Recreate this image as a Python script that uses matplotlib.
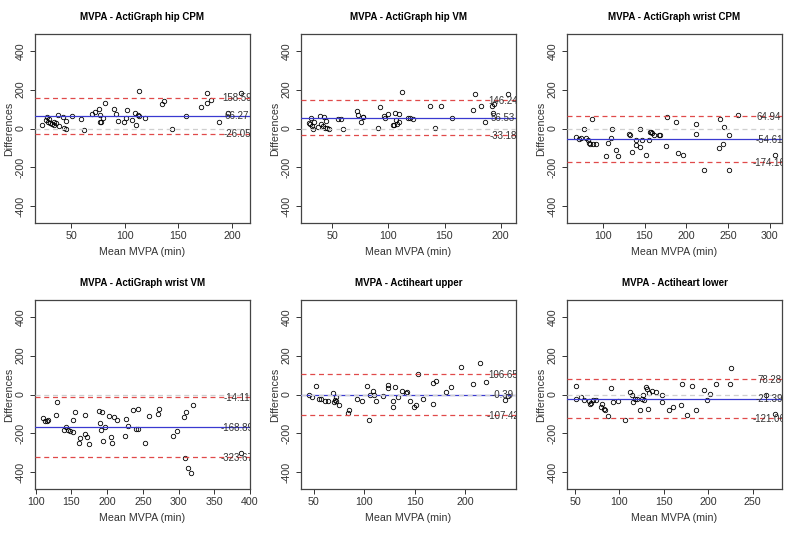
import matplotlib

matplotlib.use("Agg")
import matplotlib.pyplot as plt

plt.rcParams["font.family"] = ["Liberation Sans", "DejaVu Sans"]
plt.rcParams["axes.unicode_minus"] = False

# panel titles
titles = [
    "MVPA - ActiGraph hip CPM",
    "MVPA - ActiGraph hip VM",
    "MVPA - ActiGraph wrist CPM",
    "MVPA - ActiGraph wrist VM",
    "MVPA - Actiheart upper",
    "MVPA - Actiheart lower",
]

# Bland-Altman limits: upper LoA, mean difference, lower LoA
limits = [
    [158.59, 66.27, -26.05],
    [146.24, 56.53, -33.18],
    [64.94, -54.61, -174.16],
    [-14.11, -168.89, -323.67],
    [106.65, -0.39, -107.42],
    [78.28, -21.39, -121.06],
]

# x ranges and tick positions
xlims = [(16, 217), (22.5, 213.5), (57, 315), (99, 400), (37.5, 250), (41, 283)]
xticks = [
    [50, 100, 150, 200],
    [50, 100, 150, 200],
    [100, 150, 200, 250, 300],
    [100, 150, 200, 250, 300, 350, 400],
    [50, 100, 150, 200],
    [50, 100, 150, 200, 250],
]

# mean MVPA (min) and differences for each panel
hip_cpm_mean = [22.5, 26.6, 27.2, 28.1, 29.4, 30.3, 31.9, 33.4, 34.0, 36.0, 37.2, 38.1,
                42.2, 42.8, 45.0, 45.3, 50.6, 59.4, 61.9, 69.4, 72.5, 75.9, 76.6, 76.9,
                78.1, 79.7, 81.9, 90.0, 91.3, 93.8, 99.1, 101.6, 101.3, 106.3, 109.7,
                110.6, 112.5, 112.8, 113.4, 118.4, 135.0, 136.6, 144.4, 156.9, 170.9,
                176.6, 177.2, 180.9, 187.8, 196.3, 209.0]
hip_cpm_diff = [17, 44, 58, 35, 49, 26, 23, 32, 17, 26, 70, 14,
                58, 3, 0, 40, 65, 49, -7, 75, 84, 100, 67, 35,
                35, 56, 132, 100, 75, 40, 35, 93, 53, 44, 82,
                16, 70, 65, 193, 56, 128, 139, -2, 65, 109,
                132, 181, 147, 35, 82, 181]

hip_vm_mean = [29.2, 30.7, 31.6, 32.2, 32.8, 33.7, 37.5, 39.6, 40.5, 41.7, 42.6, 43.5,
               44.7, 45.5, 47.0, 55.3, 58.3, 59.8, 72.6, 73.2, 76.1, 77.3, 77.9, 92.5,
               91.0, 96.0, 97.5, 99.8, 105.8, 104.3, 105.5, 107.3, 107.9, 109.4, 110.0,
               117.7, 119.5, 122.2, 112.4, 137.3, 141.2, 146.5, 156.9, 175.6, 176.8,
               182.2, 185.7, 192.6, 193.3, 194.0, 206.8]
hip_vm_diff = [30, 23, 53, 12, -5, 35, 9, 65, 21, 12, 58, 4,
               40, 4, -5, 51, 51, -2, 89, 70, 35, 58, 58, 109,
               5, 65, 56, 75, 82, 18, 18, 44, 23, 32, 75,
               53, 56, 47, 188, 118, 5, 114, 56, 93, 175,
               114, 33, 118, 82, 128, 175]

wrist_cpm_mean = [67.6, 71.6, 73.6, 76.8, 79.6, 81.6, 82.8, 84.8, 86.8, 87.6, 91.2,
                  104.0, 106.0, 110.0, 110.8, 116.0, 118.0, 130.8, 132.0, 134.8, 140.0,
                  140.0, 144.8, 144.0, 146.8, 152.0, 154.8, 156.0, 157.6, 158.8, 160.8,
                  167.2, 168.8, 175.6, 176.4, 187.6, 190.4, 196.0, 212.0, 212.0, 221.6,
                  238.8, 240.8, 243.6, 245.6, 251.0, 251.8, 261.6, 306.0]
wrist_cpm_diff = [-44, -54, -47, -2, -47, -58, -74, -79, 47, -79, -82,
                  -142, -74, -47, -5, -111, -142, -30, -35, -123, -58,
                  -84, -5, -96, -58, -137, -61, -18, -18, -23, -35,
                  -35, -35, -91, 61, 33, -128, -137, 23, -30, -214,
                  -102, 47, -82, 9, -35, -214, 67, -135]

wrist_vm_mean = [110.2, 112.6, 116.3, 117.2, 127.9, 130.2, 139.5, 142.8, 145.1, 147.4,
                 152.1, 152.6, 155.3, 160.5, 162.3, 168.4, 168.8, 172.1, 174.4, 188.4,
                 190.2, 191.6, 193.0, 193.9, 197.2, 201.9, 205.6, 207.0, 209.3, 214.0,
                 225.1, 227.0, 228.8, 236.3, 240.5, 242.8, 243.3, 252.6, 259.1, 270.7,
                 272.1, 291.6, 297.7, 307.9, 310.7, 308.8, 312.6, 317.2, 320.0, 387.9]
wrist_vm_diff = [-121, -138, -138, -131, -103, -41, -184, -167, -184, -190,
                 -195, -133, -90, -250, -224, -202, -103, -221, -253, -83,
                 -147, -184, -91, -238, -169, -112, -216, -247, -117, -129,
                 -212, -124, -160, -81, -176, -176, -74, -247, -112, -98,
                 -74, -212, -190, -116, -91, -328, -376, -405, -52, -302]

upper_mean = [45.0, 48.3, 52.3, 55.0, 57.3, 60.9, 63.9, 69.2, 70.5, 71.5, 72.2, 72.5,
              74.8, 84.1, 85.4, 93.0, 98.0, 103.0, 104.3, 105.6, 108.9, 109.9, 111.8,
              118.5, 123.8, 123.8, 128.8, 128.8, 130.1, 133.8, 137.1, 141.0, 142.7,
              145.0, 149.3, 150.9, 153.6, 157.6, 167.5, 167.5, 170.8, 180.8, 185.8,
              195.7, 207.3, 214.6, 219.9, 238.7, 242.0]
upper_diff = [-3, -14, 43, -21, -21, -31, -35, 9, -38, -26, -14, -31,
              -56, -96, -82, -23, -31, 43, -130, 0, 17, 0, -31,
              -9, 49, 31, -31, -66, 38, -12, 17, 9, 12,
              -31, -66, -52, 108, -23, 61, -49, 70, 12, 38,
              143, 56, 162, 64, -30, -9]

lower_mean = [50.8, 51.1, 56.8, 60.1, 66.1, 66.9, 68.0, 70.6, 73.6, 78.9, 80.0, 82.6,
              83.8, 86.8, 90.5, 93.2, 98.8, 106.3, 111.9, 113.8, 115.7, 117.5, 119.4,
              123.2, 125.1, 126.9, 128.1, 129.6, 131.5, 131.9, 133.4, 137.2, 141.3,
              147.7, 148.4, 156.3, 160.1, 169.3, 170.1, 175.7, 181.7, 185.8, 195.6,
              198.2, 202.0, 208.7, 224.5, 225.3, 265.0, 275.0]
lower_diff = [43, -21, -14, -29, -34, -48, -43, -26, -26, -66, -48, -74,
              -81, -112, 31, -40, -34, -133, 12, 0, -40, -21, -21,
              -81, -21, -5, -29, 38, 29, -72, 9, 17, 14,
              -3, -40, -81, -64, -52, 55, -103, 43, -81, 21,
              -26, 3, 52, 52, 136, -5, -100]

means = [hip_cpm_mean, hip_vm_mean, wrist_cpm_mean, wrist_vm_mean, upper_mean, lower_mean]
diffs = [hip_cpm_diff, hip_vm_diff, wrist_cpm_diff, wrist_vm_diff, upper_diff, lower_diff]

fig = plt.figure(figsize=(8, 5.33), dpi=100)

lefts = [35, 301, 567]
tops = [34, 300]
box_w, box_h = 215, 189

for i in range(6):
    r, c = divmod(i, 3)
    rect = [lefts[c] / 800, (533 - tops[r] - box_h) / 533, box_w / 800, box_h / 533]
    ax = fig.add_axes(rect)

    ax.plot(means[i], diffs[i], "o", ms=3.2, mfc="none", mec="black", mew=0.6, zorder=2)

    upper, mid, lower = limits[i]
    ax.axhline(mid, color="#3a3ad0", lw=0.9, zorder=3)
    ax.axhline(0, color="#cfcfcf", lw=0.9, ls=(0, (4, 3)), zorder=3)
    ax.axhline(upper, color="#e04a4a", lw=0.9, ls=(0, (4, 3)), zorder=3)
    ax.axhline(lower, color="#e04a4a", lw=0.9, ls=(0, (4, 3)), zorder=3)

    for val in limits[i]:
        ax.text(0.94, val - 4, f"{val:.2f}", transform=ax.get_yaxis_transform(),
                ha="center", va="center", fontsize=7, color="#333333",
                clip_on=True, zorder=4)

    ax.set_xlim(*xlims[i])
    ax.set_ylim(-486, 486)
    ax.set_xticks(xticks[i])
    ax.set_yticks([-400, -200, 0, 200, 400])
    ax.tick_params(labelsize=7.7, length=3.5, width=0.7, colors="#333333", pad=2)
    ax.tick_params(axis="y", pad=3)
    for lab in ax.get_yticklabels():
        lab.set_rotation(90)
        lab.set_va("center")

    for sp in ax.spines.values():
        sp.set_color("#444444")
        sp.set_linewidth(0.9)

    ax.set_title(titles[i], fontsize=7, fontweight="bold", pad=10)
    ax.set_xlabel("Mean MVPA (min)", fontsize=7.7, color="#333333", va="center")
    ax.set_ylabel("Differences", fontsize=7.7, color="#333333", va="center")
    ax.xaxis.set_label_coords(0.5, -0.152)
    ax.yaxis.set_label_coords(-0.12, 0.5)

fig.savefig("out.png", dpi=100)
